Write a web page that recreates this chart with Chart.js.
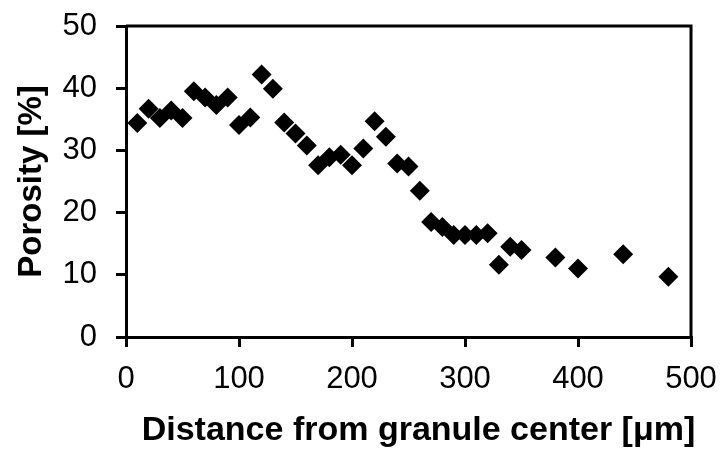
<!DOCTYPE html>
<html>
<head>
<meta charset="utf-8">
<script src="https://cdn.jsdelivr.net/npm/chart.js@4/dist/chart.umd.min.js"></script>
<style>
  html, body { margin: 0; padding: 0; background: #fff; }
  #wrap { width: 724px; height: 450px; position: relative; }
</style>
</head>
<body>
<div id="wrap"><canvas id="c" width="724" height="450"></canvas></div>
<script>
// Distance from granule center (µm)
const distance = [10, 20, 30, 40, 50, 60, 70, 80, 90, 100, 110, 120, 130, 140, 150, 160,
  170, 180, 190, 200, 210, 220, 230, 240, 250, 260, 270, 280, 290, 300, 310, 320,
  330, 340, 350, 380, 400, 440, 480];
// Porosity (%)
const porosity = [34.4, 36.7, 35.2, 36.4, 35.2, 39.5, 38.5, 37.3, 38.5, 34.1, 35.3, 42.2, 39.9, 34.5, 32.7, 30.8,
  27.6, 28.9, 29.3, 27.6, 30.3, 34.7, 32.2, 27.9, 27.4, 23.5, 18.5, 17.7, 16.4, 16.4, 16.4, 16.7,
  11.6, 14.5, 14.0, 12.8, 11.0, 13.3, 9.7];

const xTitle = 'Distance from granule center [\u03bcm]';
const yTitle = 'Porosity [%]';

const points = distance.map((d, i) => ({ x: d, y: porosity[i] }));

const fontFamily = 'Liberation Sans, Arial, sans-serif';
const tickFont = { family: fontFamily, size: 31 };
const titleFont = { family: fontFamily, size: 33, weight: 'bold' };

// Closes the plot box with a top and right edge, and writes the x-axis title
const frame = {
  id: 'frame',
  afterDraw(chart) {
    const { ctx, chartArea: a } = chart;
    ctx.save();
    ctx.strokeStyle = '#000';
    ctx.lineWidth = 3;
    ctx.beginPath();
    ctx.moveTo(a.left, a.top);
    ctx.lineTo(a.right, a.top);
    ctx.lineTo(a.right, a.bottom);
    ctx.stroke();

    ctx.fillStyle = '#000';
    ctx.font = 'bold 34px ' + fontFamily;
    ctx.textAlign = 'center';
    ctx.textBaseline = 'alphabetic';
    ctx.fillText(xTitle, a.left + (a.right - a.left) / 2 + 10, a.bottom + 103);
    ctx.restore();
  }
};

// Keep the plot area exactly where the layout padding puts it
function noScalePadding(scale) {
  scale.paddingTop = 0;
  scale.paddingBottom = 0;
  scale.paddingLeft = 0;
  scale.paddingRight = 0;
}

new Chart(document.getElementById('c'), {
  type: 'scatter',
  data: {
    datasets: [{
      data: points,
      pointStyle: 'rectRot',
      pointRadius: 10,
      pointHoverRadius: 10,
      backgroundColor: '#000',
      borderColor: '#000',
      borderWidth: 0
    }]
  },
  options: {
    responsive: false,
    animation: false,
    events: [],
    layout: { padding: { top: 26, right: 33, left: 0, bottom: 0 } },
    plugins: { legend: { display: false }, tooltip: { enabled: false } },
    scales: {
      x: {
        type: 'linear',
        min: 0, max: 500,
        ticks: { stepSize: 100, color: '#000', font: tickFont, padding: 14 },
        grid: { drawOnChartArea: false, drawTicks: true, tickLength: 10, color: '#000', lineWidth: 3 },
        border: { color: '#000', width: 3 },
        afterFit(scale) { scale.height = 113; noScalePadding(scale); }
      },
      y: {
        type: 'linear',
        min: 0, max: 50,
        ticks: { stepSize: 10, color: '#000', font: tickFont, padding: 19 },
        grid: { drawOnChartArea: false, drawTicks: true, tickLength: 10, color: '#000', lineWidth: 3 },
        border: { color: '#000', width: 3 },
        title: { display: true, text: yTitle, color: '#000', font: titleFont, padding: { top: 12, bottom: 0 } },
        afterFit(scale) { scale.width = 126; noScalePadding(scale); }
      }
    }
  },
  plugins: [frame]
});
</script>
</body>
</html>
